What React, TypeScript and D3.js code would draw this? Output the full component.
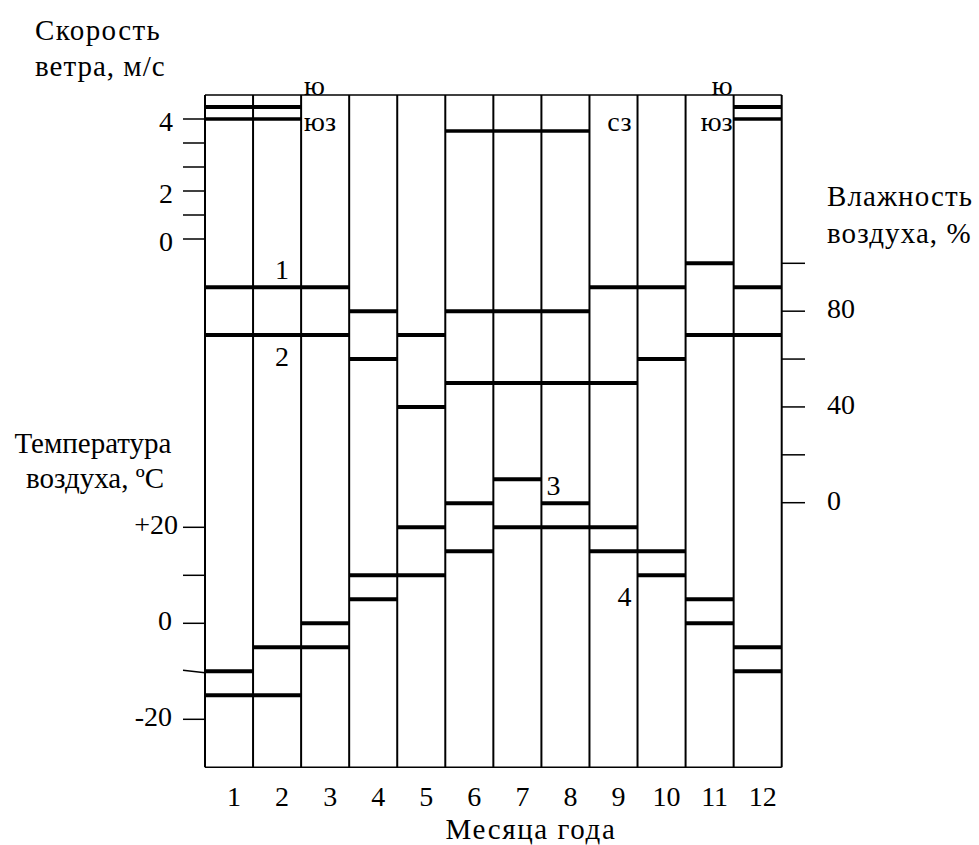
import React from "react";
import * as d3 from "d3";

// ---- data ----
const months = ["1", "2", "3", "4", "5", "6", "7", "8", "9", "10", "11", "12"];

// humidity, %
const humidity1 = [90, 90, 90, 80, 70, 80, 80, 80, 90, 90, 100, 90];
const humidity2 = [70, 70, 70, 60, 40, 50, 50, 50, 50, 60, 70, 70];

// temperature, °C
const temperature3 = [-10, -5, 0, 10, 20, 25, 30, 25, 20, 15, 5, -5];
const temperature4 = [-15, -15, -5, 5, 10, 15, 20, 20, 15, 10, 0, -10];

// wind speed (axis units)
const windUpper: (number | null)[] = [5.5, 5.5, null, null, null, null, null, null, null, null, null, 5.5];
const windLower: (number | null)[] = [5, 5, null, null, null, 4.5, 4.5, 4.5, null, null, null, 5];

const windTicks = [0, 1, 2, 3, 4, 5];
const windTickLabels = ["0", "", "2", "", "", "4"];
const humidityTicks = [0, 20, 40, 60, 80, 100];
const humidityTickLabels = ["0", "", "40", "", "80", ""];
const tempTicks = [-20, -10, 0, 10, 20];
const tempTickLabels = ["-20", "", "0", "", "+20"];

// wind direction notes: month, text, level on wind axis
const windDirMonths = ["3", "3", "9", "11", "11"];
const windDirTexts = ["ю", "юз", "сз", "ю", "юз"];
const windDirLevels = [6, 4.5, 4.5, 6, 4.5];

const FONT = "Liberation Serif, Times New Roman, DejaVu Serif, serif";
const FS = 28;

export default function App() {
  const W = 979;
  const H = 845;
  const left = 205;
  const right = 781.7;
  const top = 95;
  const bottom = 767.3;

  const x = d3.scaleBand<string>().domain(months).range([left, right]).padding(0);
  const bw = x.bandwidth();

  const yWind = d3.scaleLinear().domain([0, 5]).range([239, 119]);
  const yHum = d3.scaleLinear().domain([0, 100]).range([502.7, 263.3]);
  const yTemp = d3.scaleLinear().domain([-20, 20]).range([719.3, 527.3]);

  const segs: { x1: number; x2: number; y: number; w: number }[] = [];
  const addSeries = (vals: (number | null)[], sc: (v: number) => number, w: number) => {
    vals.forEach((v, i) => {
      if (v === null || v === undefined) return;
      const m = months[i];
      segs.push({ x1: x(m)!, x2: x(m)! + bw, y: sc(v), w });
    });
  };
  addSeries(humidity1, yHum, 4);
  addSeries(humidity2, yHum, 4);
  addSeries(temperature3, yTemp, 4);
  addSeries(temperature4, yTemp, 4);
  addSeries(windUpper, yWind, 4);
  addSeries(windLower, yWind, 3.5);

  const T = (props: any) => (
    <text fontFamily={FONT} fontSize={FS} fill="#000" {...props} />
  );

  return (
    <svg
      width={W}
      height={H}
      viewBox={`0 0 ${W} ${H}`}
      style={{ position: "absolute", left: 0, top: 0, background: "#fff" }}
    >
      <rect x={0} y={0} width={W} height={H} fill="#fff" />

      {/* axis titles */}
      <T x={35} y={40} fontSize={29} letterSpacing={1.4}>Скорость</T>
      <T x={35} y={76} fontSize={29} letterSpacing={1}>ветра, м/с</T>
      <T x={827} y={206} fontSize={29} letterSpacing={1.1}>Влажность</T>
      <T x={827} y={243} fontSize={29} letterSpacing={1.1}>воздуха, %</T>
      <T x={93} y={453} fontSize={29} textAnchor="middle">Температура</T>
      <T x={95} y={488} fontSize={29} textAnchor="middle">воздуха, ºС</T>
      <T x={531} y={839} fontSize={29} letterSpacing={1.6} textAnchor="middle">Месяца года</T>

      {/* frame: top & bottom */}
      <line x1={left} x2={right} y1={top} y2={top} stroke="#000" strokeWidth={1.5} />
      <line x1={left} x2={right} y1={bottom} y2={bottom} stroke="#000" strokeWidth={1.5} />

      {/* vertical column lines */}
      {[...months.map((m) => x(m)!), right].map((xx, i) => (
        <line key={"v" + i} x1={xx} x2={xx} y1={top} y2={bottom} stroke="#000" strokeWidth={2} />
      ))}

      {/* wind axis */}
      {windTicks.map((t, i) => (
        <g key={"wt" + i}>
          <line x1={183} x2={left} y1={yWind(t)} y2={yWind(t)} stroke="#000" strokeWidth={1.5} />
          {windTickLabels[i] && (
            <T x={173} y={yWind(t) + 12} textAnchor="end">
              {windTickLabels[i]}
            </T>
          )}
        </g>
      ))}

      {/* humidity axis */}
      {humidityTicks.map((t, i) => (
        <g key={"ht" + i}>
          <line x1={right} x2={805} y1={yHum(t)} y2={yHum(t)} stroke="#000" strokeWidth={1.5} />
          {humidityTickLabels[i] && (
            <T x={827} y={yHum(t) + 7}>
              {humidityTickLabels[i]}
            </T>
          )}
        </g>
      ))}

      {/* temperature axis */}
      {tempTicks.map((t, i) => (
        <g key={"tt" + i}>
          <line
            x1={183}
            x2={left}
            y1={yTemp(t) - (t === -10 ? 1 : 0)}
            y2={yTemp(t) + (t === -10 ? 1.5 : 0)}
            stroke="#000"
            strokeWidth={1.5}
          />
          {tempTickLabels[i] && (
            <T x={t === 20 ? 178 : 172} y={yTemp(t) + 7} textAnchor="end">
              {tempTickLabels[i]}
            </T>
          )}
        </g>
      ))}

      {/* thick data segments */}
      {segs.map((s, i) => (
        <line key={"s" + i} x1={s.x1} x2={s.x2} y1={s.y} y2={s.y} stroke="#000" strokeWidth={s.w} />
      ))}

      {/* month labels */}
      {months.map((m) => (
        <T key={"m" + m} x={x(m)! + bw / 2 + 5} y={806} textAnchor="middle">
          {m}
        </T>
      ))}

      {/* wind direction notes */}
      {windDirTexts.map((t, i) => {
        const m = windDirMonths[i];
        const x0 = x(m)!;
        let xx = x0 + 3;
        let anchor: "start" | "end" = "start";
        if (m === "11" || m === "9") {
          xx = m === "9" ? x0 + bw - 6 : x0 + bw - 1;
          anchor = "end";
        }
        return (
          <T key={"wd" + i} x={xx} y={yWind(windDirLevels[i])} textAnchor={anchor}>
            {t}
          </T>
        );
      })}

      {/* series numbers */}
      <T x={282} y={yHum(humidity1[1]) - 8} textAnchor="middle">1</T>
      <T x={282} y={yHum(humidity2[1]) + 31} textAnchor="middle">2</T>
      <T x={x("8")! + 12} y={yTemp(temperature3[7]) - 8} textAnchor="middle">3</T>
      <T x={x("9")! + bw - 13} y={yTemp(temperature4[9]) + 31} textAnchor="middle">4</T>
    </svg>
  );
}
